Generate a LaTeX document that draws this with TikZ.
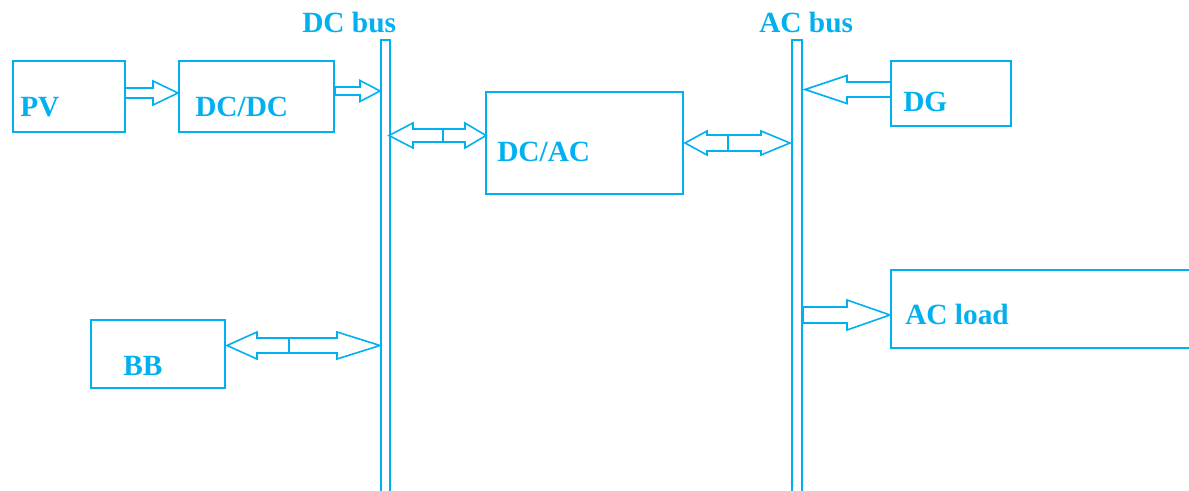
\documentclass[tikz,border=0pt]{standalone}
\usepackage{fontspec}
\setmainfont{Liberation Serif}
\usetikzlibrary{fit}
\definecolor{cb}{RGB}{0,176,240}
\tikzset{
 box/.style={draw=cb, line width=1.4pt, inner sep=0pt, outer sep=0pt},
 bus/.style={draw=cb, line width=1.3pt, inner sep=0pt, outer sep=0pt},
 lbl/.style={text=cb, font=\bfseries\fontsize{22}{26}\selectfont, inner sep=0pt, anchor=base west},
 blk/.style={draw=cb, line width=1.2pt, line join=miter},
}
% single hollow block arrow: start x, tip x, y, shaft half, head half, signed head length
\newcommand\sarrow[6]{\draw[blk] (#1,{#3-#4}) -- ({#2-(#6)},{#3-#4}) -- ({#2-(#6)},{#3-#5}) -- (#2,#3) -- ({#2-(#6)},{#3+#5}) -- ({#2-(#6)},{#3+#4}) -- (#1,{#3+#4}) -- cycle;}
% double hollow block arrow: left tip, right tip, y, shaft half, head half, left head len, right head len, divider x
\newcommand\darrow[8]{\draw[blk] (#1,#3) -- ({#1+#6},{#3-#5}) -- ({#1+#6},{#3-#4}) -- ({#2-#7},{#3-#4}) -- ({#2-#7},{#3-#5}) -- (#2,#3) -- ({#2-#7},{#3+#5}) -- ({#2-#7},{#3+#4}) -- ({#1+#6},{#3+#4}) -- ({#1+#6},{#3+#5}) -- cycle;
 \draw[blk] (#8,{#3-#4}) -- (#8,{#3+#4});}
\begin{document}
\begin{tikzpicture}[x=0.75pt,y=-0.75pt]
\useasboundingbox (0,0) rectangle (1189,491);
% buses
\node[bus, fit={(381,40) (390,505)}] (dcbus) {};
\node[bus, fit={(792,40) (802,505)}] (acbus) {};
\node[lbl] (dcbuslbl) at (302,33) {DC bus};
\node[lbl] (acbuslbl) at (759,33) {AC bus};
% boxes
\node[box, fit={(13,61) (125,132)}] (pv) {};
\node[box, fit={(179,61) (334,132)}] (dcdc) {};
\node[box, fit={(486,92) (683,194)}] (dcac) {};
\node[box, fit={(891,61) (1011,126)}] (dg) {};
\node[box, fit={(91,320) (225,388)}] (bb) {};
\node[box, fit={(891,270) (1200,348)}] (acload) {};
% labels
\node[lbl] (pvlbl) at (20,117) {PV};
\node[lbl] (dcdclbl) at (195,117) {DC/DC};
\node[lbl] (dcaclbl) at (497,162) {DC/AC};
\node[lbl] (dglbl) at (903,112) {DG};
\node[lbl] (bblbl) at (123,376) {BB};
\node[lbl] (acloadlbl) at (905,325) {AC load};
% connectors
\sarrow{125}{178}{93}{5}{12}{25}
\sarrow{335}{380}{91}{4}{10.5}{20}
\sarrow{891}{805}{89.5}{7.5}{14}{-42}
\sarrow{803}{890}{315}{8}{15}{43}
\darrow{389}{486}{135.5}{6.5}{12.5}{24}{21}{443}
\darrow{685}{790}{143}{8}{12}{22}{29}{728}
\darrow{227}{380}{345.5}{7.5}{13.5}{30}{43}{289}
\end{tikzpicture}
\end{document}
